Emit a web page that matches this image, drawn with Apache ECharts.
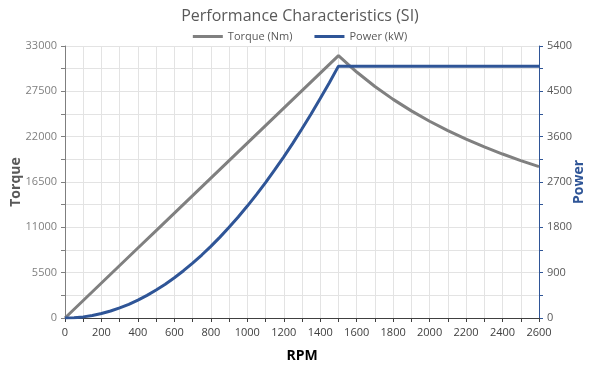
<!DOCTYPE html>
<html>
<head>
<meta charset="utf-8">
<script src="https://cdn.jsdelivr.net/npm/echarts@6/dist/echarts.min.js"></script>
<style>html,body{margin:0;padding:0;background:#fff}#c{width:600px;height:366px}</style>
</head>
<body>
<div id="c"></div>
<script>
const rpmTorque = [0,100,200,300,400,500,600,700,800,900,1000,1100,1200,1300,1400,1500,1600,1700,1800,1900,2000,2100,2200,2300,2400,2500,2600];
const torqueNm = [0,2122,4244,6366,8488,10610,12732,14854,16976,19098,21220,23342,25464,27586,29708,31830,29841,28086,26525,25129,23873,22736,21702,20759,19894,19098,18363];
const rpmPower = [0,50,100,150,200,250,300,350,400,450,500,550,600,650,700,750,800,850,900,950,1000,1050,1100,1150,1200,1250,1300,1350,1400,1450,1500,1600,1800,2000,2200,2400,2600];
const powerKW = [0,6,22,50,89,139,200,272,356,450,556,672,800,939,1089,1250,1422,1606,1800,2006,2222,2450,2689,2939,3200,3472,3756,4050,4356,4672,5000,5000,5000,5000,5000,5000,5000];
const torqueTicks = {min:0, max:33000, interval:5500};
const powerTicks = {min:0, max:5400, interval:900};
const rpmTicks = {min:0, max:2600, interval:200};

const chart = echarts.init(document.getElementById('c'));
const gridColor = '#e3e3e3';
const plain = v => String(v);
chart.setOption({
  animation:false,
  title:{text:'Performance Characteristics (SI)', left:'center', top:3,
    textStyle:{fontFamily:'Open Sans', fontSize:16, fontWeight:'normal', color:'#595959'}},
  legend:{top:26, left:'center', itemWidth:30, itemHeight:3, itemGap:22,
    icon:'rect',
    textStyle:{fontFamily:'Open Sans', fontSize:11, color:'#595959'},
    data:['Torque (Nm)','Power (kW)']},
  grid:{left:65, right:61, top:46, bottom:48, containLabel:false, outerBoundsMode:'none'},
  xAxis:{type:'value', min:rpmTicks.min, max:rpmTicks.max, interval:rpmTicks.interval,
    name:'RPM', nameLocation:'middle', nameGap:31, nameMoveOverlap:false,
    nameTextStyle:{fontFamily:'Open Sans', fontSize:14, fontWeight:'bold', color:'#000'},
    axisLine:{lineStyle:{color:'#404040', width:1}},
    axisTick:{show:true, length:4, lineStyle:{color:'#404040'}},
    minorTick:{show:true, splitNumber:2, length:4, lineStyle:{color:'#404040'}},
    axisLabel:{fontFamily:'Open Sans', fontSize:11, color:'#404040', margin:9, formatter:plain},
    splitLine:{show:true, lineStyle:{color:gridColor}},
    minorSplitLine:{show:true, lineStyle:{color:gridColor}}},
  yAxis:[
    {type:'value', min:torqueTicks.min, max:torqueTicks.max, interval:torqueTicks.interval,
      name:'Torque', nameLocation:'middle', nameGap:42, nameRotate:90, nameMoveOverlap:false,
      nameTextStyle:{fontFamily:'Open Sans', fontSize:14, fontWeight:'bold', color:'#595959'},
      axisLine:{show:true, lineStyle:{color:'#7f7f7f'}},
      axisTick:{show:true, length:4, lineStyle:{color:'#7f7f7f'}},
      minorTick:{show:true, splitNumber:2, length:4, lineStyle:{color:'#7f7f7f'}},
      axisLabel:{fontFamily:'Open Sans', fontSize:11, color:'#7f7f7f', margin:8, formatter:plain},
      splitLine:{show:true, lineStyle:{color:gridColor}},
      minorSplitLine:{show:true, lineStyle:{color:gridColor}}},
    {type:'value', min:powerTicks.min, max:powerTicks.max, interval:powerTicks.interval,
      position:'right',
      name:'Power', nameLocation:'middle', nameGap:33, nameRotate:90, nameMoveOverlap:false,
      nameTextStyle:{fontFamily:'Open Sans', fontSize:14, fontWeight:'bold', color:'#2f5597'},
      axisLine:{show:true, lineStyle:{color:'#2f5597'}},
      axisTick:{show:true, length:4, lineStyle:{color:'#2f5597'}},
      minorTick:{show:true, splitNumber:2, length:4, lineStyle:{color:'#2f5597'}},
      axisLabel:{fontFamily:'Open Sans', fontSize:11, color:'#595959', margin:8, formatter:plain},
      splitLine:{show:false}}
  ],
  series:[
    {name:'Torque (Nm)', type:'line', yAxisIndex:0, symbol:'none', smooth:false,
      lineStyle:{color:'#808080', width:3}, itemStyle:{color:'#808080'},
      data: rpmTorque.map((r,i)=>[r, torqueNm[i]])},
    {name:'Power (kW)', type:'line', yAxisIndex:1, symbol:'none', smooth:false,
      lineStyle:{color:'#2f5597', width:3}, itemStyle:{color:'#2f5597'},
      data: rpmPower.map((r,i)=>[r, powerKW[i]])}
  ]
});
</script>
</body>
</html>
